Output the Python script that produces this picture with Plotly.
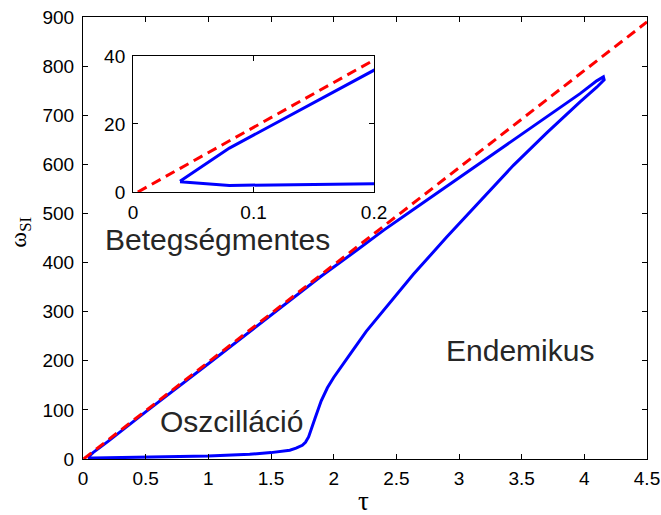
import plotly.graph_objects as go

# Upper branch of the boundary curve (tau, omega_SI)
tau_upper = [0.039, 0.08, 0.2, 0.5, 1.0, 1.5, 1.9, 2.2, 2.4, 2.636, 2.902, 3.168, 3.434,
             3.70, 3.966, 4.099, 4.13, 4.152]
omega_upper = [3.2, 12.9, 35.8, 96, 194, 292, 372, 428, 466, 508, 555, 602, 649,
               696, 744, 770, 775, 778]

# Lower branch (from the tip back to small tau)
tau_lower = [4.158, 4.14, 4.099, 3.966, 3.70, 3.434, 3.168, 2.902, 2.636, 2.396, 2.26, 2.13,
             2.0, 1.95, 1.9, 1.85, 1.80, 1.775, 1.75, 1.70, 1.65, 1.5, 1.33,
             1.0, 0.5, 0.2, 0.08, 0.039]
omega_lower = [772, 767, 757, 727, 664, 598, 526, 452, 376, 303, 260, 213,
               166, 145, 118, 82, 45, 34, 28, 22, 18, 13, 9.5,
               6, 3.5, 2.4, 1.95, 3.0]

# Dashed reference line
tau_dash = [0.004, 4.5]
omega_dash = [0, 890]

# Ticks
x_ticks = [0, 0.5, 1, 1.5, 2, 2.5, 3, 3.5, 4, 4.5]
x_ticklabels = ["0", "0.5", "1", "1.5", "2", "2.5", "3", "3.5", "4", "4.5"]
y_ticks = [0, 100, 200, 300, 400, 500, 600, 700, 800, 900]
inset_x_ticks = [0, 0.1, 0.2]
inset_x_ticklabels = ["0", "0.1", "0.2"]
inset_y_ticks = [0, 20, 40]

loop_tau = tau_upper + tau_lower
loop_omega = omega_upper + omega_lower

BLUE = "#0000FF"
RED = "#FF0000"
FONT = "Liberation Sans, Arial, sans-serif"
SERIF = "Liberation Serif, DejaVu Serif, serif"

fig = go.Figure()
for xa, ya in (("x", "y"), ("x2", "y2")):
    fig.add_trace(go.Scatter(x=loop_tau, y=loop_omega, mode="lines",
                             line=dict(color=BLUE, width=3), xaxis=xa, yaxis=ya,
                             showlegend=False, hoverinfo="skip"))
    fig.add_trace(go.Scatter(x=tau_dash, y=omega_dash, mode="lines",
                             line=dict(color=RED, width=3, dash="10px,6px"),
                             xaxis=xa, yaxis=ya, showlegend=False, hoverinfo="skip"))

axis_common = dict(showline=True, linecolor="black", linewidth=1, mirror="ticks",
                   ticks="inside", ticklen=5, tickcolor="black", tickwidth=1,
                   showgrid=False, zeroline=False, automargin=False,
                   tickfont=dict(family=FONT, size=19, color="black"))

fig.update_layout(
    template="none",
    width=661, height=515,
    margin=dict(l=83, r=14, t=17, b=56, autoexpand=False),
    paper_bgcolor="white", plot_bgcolor="white",
    xaxis=dict(range=[0, 4.5], tickvals=x_ticks, ticktext=x_ticklabels,
               domain=[0, 1], ticklabelstandoff=2, **axis_common),
    yaxis=dict(range=[0, 900], tickvals=y_ticks, domain=[0, 1],
               ticklabelstandoff=4, **axis_common),
    xaxis2=dict(range=[0, 0.2], tickvals=inset_x_ticks, ticktext=inset_x_ticklabels,
                domain=[0.0887, 0.516], anchor="y2", ticklabelstandoff=3, **axis_common),
    yaxis2=dict(range=[0, 40], tickvals=inset_y_ticks, domain=[0.604, 0.912],
                anchor="x2", ticklabelstandoff=3, **axis_common),
)

text_font = dict(family=FONT, size=30, color="#262626")
fig.add_annotation(x=1.075, y=446, xref="x", yref="y", text="Betegségmentes",
                   showarrow=False, font=text_font, xanchor="center", yanchor="middle")
fig.add_annotation(x=1.185, y=77, xref="x", yref="y", text="Oszcilláció",
                   showarrow=False, font=text_font, xanchor="center", yanchor="middle")
fig.add_annotation(x=3.483, y=220, xref="x", yref="y", text="Endemikus",
                   showarrow=False, font=text_font, xanchor="center", yanchor="middle")

# Axis titles
fig.add_annotation(x=0.498, y=-0.095, xref="paper", yref="paper", text="τ",
                   showarrow=False, font=dict(family=SERIF, size=27, color="black"),
                   xanchor="center", yanchor="middle")
fig.add_annotation(x=-0.112, y=0.514, xref="paper", yref="paper", text="ω<sub>SI</sub>",
                   showarrow=False, textangle=-90,
                   font=dict(family=SERIF, size=24, color="black"),
                   xanchor="center", yanchor="middle")

fig.write_html("out.html", config={"displayModeBar": False},
               post_script="document.body.style.margin='0';document.body.style.padding='0';"
                           "document.documentElement.style.overflow='hidden';")
